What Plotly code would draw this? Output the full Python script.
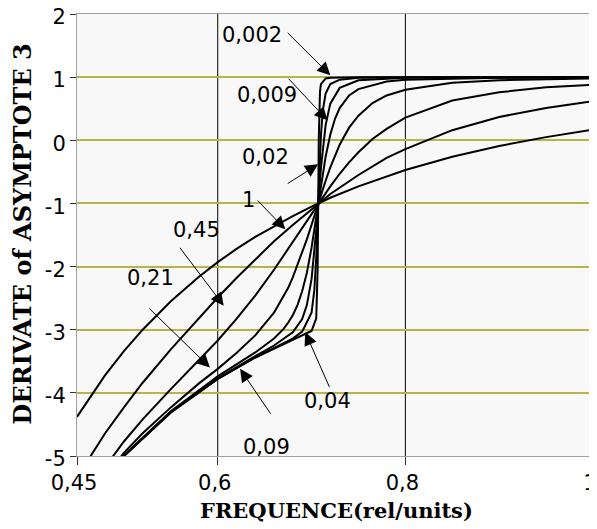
import plotly.graph_objects as go

# damping labels of the curves
zeta_labels = ["1", "0,45", "0,21", "0,09", "0,04", "0,02", "0,009", "0,002"]

# curve values
x_z1 = [0.45, 0.48, 0.5, 0.52, 0.55, 0.58, 0.6, 0.62, 0.64, 0.66, 0.68, 0.70, 0.7071, 0.72, 0.75, 0.78, 0.8, 0.85, 0.9, 0.95, 1.0]
y_z1 = [-4.38, -3.72, -3.34, -3.00, -2.55, -2.16, -1.93, -1.72, -1.53, -1.36, -1.20, -1.05, -1.00, -0.91, -0.73, -0.57, -0.47, -0.26, -0.09, 0.05, 0.17]

x_z045 = [0.45, 0.48, 0.5, 0.52, 0.55, 0.58, 0.6, 0.62, 0.64, 0.66, 0.68, 0.70, 0.7071, 0.72, 0.75, 0.78, 0.8, 0.85, 0.9, 0.95, 1.0]
y_z045 = [-5.34, -4.64, -4.23, -3.84, -3.31, -2.81, -2.49, -2.18, -1.89, -1.60, -1.34, -1.09, -1.00, -0.85, -0.55, -0.28, -0.14, 0.16, 0.37, 0.51, 0.62]

x_z021 = [0.45, 0.5, 0.52, 0.55, 0.58, 0.6, 0.62, 0.64, 0.66, 0.68, 0.69, 0.70, 0.7071, 0.71, 0.72, 0.73, 0.74, 0.75, 0.765, 0.78, 0.8, 0.85, 0.9, 0.95, 1.0]
y_z021 = [-5.78, -4.77, -4.42, -3.94, -3.48, -3.17, -2.83, -2.46, -2.05, -1.61, -1.38, -1.16, -1.00, -0.94, -0.73, -0.53, -0.35, -0.19, 0.02, 0.18, 0.36, 0.63, 0.76, 0.84, 0.88]

x_z009 = [0.45, 0.5, 0.52, 0.55, 0.58, 0.6, 0.62, 0.64, 0.66, 0.67, 0.675, 0.68, 0.69, 0.695, 0.70, 0.7071, 0.71, 0.715, 0.72, 0.725, 0.73, 0.74, 0.75, 0.765, 0.78, 0.8, 0.85, 0.9, 0.95, 1.0]
y_z009 = [-5.91, -4.95, -4.64, -4.23, -3.85, -3.62, -3.37, -3.09, -2.73, -2.48, -2.34, -2.17, -1.79, -1.57, -1.34, -1.00, -0.86, -0.64, -0.43, -0.24, -0.07, 0.20, 0.39, 0.59, 0.71, 0.80, 0.91, 0.95, 0.97, 0.98]

x_z004 = [0.45, 0.5, 0.55, 0.6, 0.64, 0.66, 0.67, 0.675, 0.68, 0.685, 0.69, 0.695, 0.70, 0.705, 0.7071, 0.71, 0.715, 0.72, 0.725, 0.73, 0.74, 0.75, 0.78, 0.8, 0.85, 0.9, 1.0]
y_z004 = [-5.93, -4.99, -4.29, -3.74, -3.36, -3.14, -2.99, -2.89, -2.77, -2.61, -2.39, -2.10, -1.70, -1.22, -1.00, -0.71, -0.26, 0.09, 0.34, 0.51, 0.71, 0.81, 0.93, 0.96, 0.98, 0.99, 1.00]

x_z002 = [0.45, 0.5, 0.55, 0.6, 0.64, 0.66, 0.68, 0.69, 0.695, 0.70, 0.705, 0.7071, 0.71, 0.715, 0.72, 0.73, 0.75, 0.8, 0.9, 1.0]
y_z002 = [-5.94, -5.00, -4.30, -3.77, -3.42, -3.25, -3.04, -2.83, -2.61, -2.20, -1.42, -1.00, -0.44, 0.24, 0.58, 0.83, 0.95, 0.99, 1.00, 1.00]

x_z0009 = [0.45, 0.5, 0.55, 0.6, 0.64, 0.66, 0.68, 0.69, 0.70, 0.703, 0.705, 0.7071, 0.709, 0.71, 0.712, 0.715, 0.72, 0.73, 0.75, 0.8, 1.0]
y_z0009 = [-5.94, -5.00, -4.31, -3.78, -3.44, -3.29, -3.14, -3.03, -2.73, -2.37, -1.86, -1.00, -0.22, 0.08, 0.47, 0.74, 0.89, 0.96, 0.99, 1.00, 1.00]

x_z0002 = [0.45, 0.5, 0.55, 0.6, 0.64, 0.66, 0.68, 0.69, 0.70, 0.705, 0.7065, 0.7071, 0.7077, 0.709, 0.71, 0.715, 0.72, 0.75, 0.8, 1.0]
y_z0002 = [-5.94, -5.00, -4.31, -3.78, -3.44, -3.30, -3.16, -3.10, -3.02, -2.82, -2.04, -1.00, 0.02, 0.77, 0.89, 0.98, 0.99, 1.00, 1.00, 1.00]

curves_x = [x_z1, x_z045, x_z021, x_z009, x_z004, x_z002, x_z0009, x_z0002]
curves_y = [y_z1, y_z045, y_z021, y_z009, y_z004, y_z002, y_z0009, y_z0002]

# axis ticks
x_tickvals = [0.45, 0.6, 0.8, 1.0]
x_ticktext = ["0,45", "0,6", "0,8", "1"]
y_tickvals = [2, 1, 0, -1, -2, -3, -4, -5]
y_ticktext = ["2", "1", "0", "-1", "-2", "-3", "-4", "-5"]

# label annotations: text, text pos, arrow tail, arrow tip
ann_text = ["0,002", "0,009", "0,02", "1", "0,45", "0,21", "0,09", "0,04"]
ann_tx = [0.6366, 0.652, 0.6505, 0.6325, 0.5778, 0.5286, 0.6516, 0.717]
ann_ty = [1.661, 0.712, -0.27, -0.95, -1.424, -2.18, -4.86, -4.13]
arr_x0 = [0.673, 0.674, 0.673, 0.641, 0.5582, 0.5254, 0.6577, 0.720]
arr_y0 = [1.725, 1.0, -0.70, -0.93, -1.672, -2.64, -4.36, -3.94]
arr_x1 = [0.720, 0.717, 0.707, 0.672, 0.6064, 0.5917, 0.6238, 0.6933]
arr_y1 = [1.03, 0.316, -0.38, -1.41, -2.62, -3.60, -3.62, -3.04]

fig = go.Figure()
for cx, cy, lab in zip(curves_x, curves_y, zeta_labels):
    fig.add_trace(go.Scatter(x=cx, y=cy, mode="lines", name=lab,
                             line=dict(color="black", width=2),
                             showlegend=False, hoverinfo="skip"))

# vertical reference lines at 0.6 and 0.8
for xv in [0.6, 0.8]:
    fig.add_shape(type="line", xref="x", yref="paper", x0=xv, x1=xv, y0=0, y1=1,
                  line=dict(color="black", width=1), layer="below")

annotations = []
for t, tx, ty in zip(ann_text, ann_tx, ann_ty):
    annotations.append(dict(x=tx, y=ty, xref="x", yref="y", text=t, showarrow=False,
                            font=dict(family="DejaVu Sans", size=21, color="black")))
for x0, y0, x1, y1 in zip(arr_x0, arr_y0, arr_x1, arr_y1):
    annotations.append(dict(x=x1, y=y1, ax=x0, ay=y0, xref="x", yref="y",
                            axref="x", ayref="y", text=" ", showarrow=True,
                            arrowhead=2, arrowsize=2.6, arrowwidth=1, arrowcolor="black",
                            font=dict(size=1)))
# axis titles
annotations.append(dict(x=0.502, y=-0.124, xref="paper", yref="paper",
                        text="<b>FREQUENCE(rel/units)</b>", showarrow=False,
                        xanchor="center", yanchor="middle",
                        font=dict(family="DejaVu Serif", size=21, color="black")))
annotations.append(dict(x=-0.106, y=0.502, xref="paper", yref="paper",
                        text="<b>DERIVATE of ASYMPTOTE 3</b>", showarrow=False,
                        textangle=-90, xanchor="center", yanchor="middle",
                        font=dict(family="DejaVu Serif", size=24, color="black")))

fig.update_layout(
    width=589, height=521,
    margin=dict(l=69, r=4, t=6, b=73, autoexpand=False),
    paper_bgcolor="white",
    plot_bgcolor="#f8f8f8",
    annotations=annotations,
    xaxis=dict(range=[0.45, 1.0], tickvals=x_tickvals, ticktext=x_ticktext,
               showgrid=False, zeroline=False, automargin=False,
               ticklabeloverflow="allow", ticklabelshift=-3,
               showline=True, linecolor="#a0a0a0", linewidth=1, mirror=True,
               ticks="outside", ticklen=8, tickcolor="#333333",
               tickfont=dict(family="DejaVu Sans", size=21, color="black")),
    yaxis=dict(range=[-5, 2], tickvals=y_tickvals, ticktext=y_ticktext,
               showgrid=True, gridcolor="#b5b54a", gridwidth=1.5, zeroline=False,
               automargin=False, ticklabeloverflow="allow", ticklabelshift=3,
               showline=True, linecolor="#a0a0a0", linewidth=1, mirror=True,
               ticks="outside", ticklen=6, tickcolor="#333333",
               tickfont=dict(family="DejaVu Sans", size=21, color="black")),
)

fig.write_html("out.html")
